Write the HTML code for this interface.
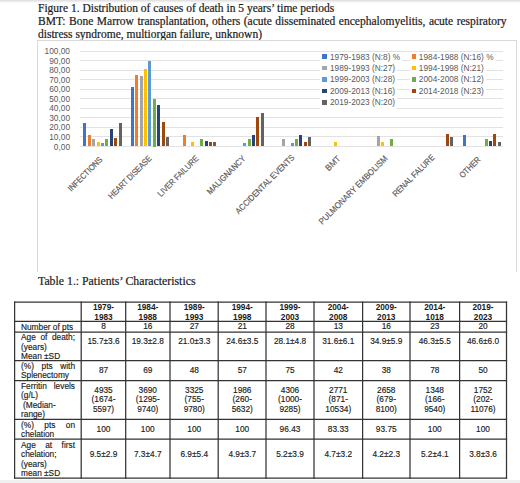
<!DOCTYPE html><html><head><meta charset="utf-8"><style>
*{margin:0;padding:0;box-sizing:border-box}
html,body{width:520px;height:483px;overflow:hidden;background:#fff}
body{position:relative;font-family:"Liberation Sans",sans-serif}
.a{position:absolute}
.s{font-family:"Liberation Serif",serif;font-size:11.5px;color:#1a1a1a;-webkit-text-stroke:0.2px #1a1a1a;white-space:nowrap;line-height:13px}
.yl{font-size:8.3px;color:#595959;text-align:right;width:40px;line-height:10px;white-space:nowrap}
.g{height:1px;background:#e2e2e2}
.b{}
.lg{font-size:8.3px;color:#595959;white-space:nowrap;line-height:10px}
.lm{width:4.8px;height:4.8px}
.xl{font-size:8.6px;color:#555;-webkit-text-stroke:0.15px #555;white-space:nowrap;line-height:10px;transform-origin:100% 50%;text-align:right}
.hl{height:1px;background:#111}
.vl{width:1px;background:#111}
.t{font-size:8.3px;color:#1a1a1a;line-height:9.5px;text-align:center;-webkit-text-stroke:0.15px #1a1a1a}
.tb{font-weight:bold;-webkit-text-stroke:0}
.jl{text-align:justify;text-align-last:justify;white-space:nowrap}
</style></head><body>
<div class="a" style="left:0;top:0;width:520px;height:3px;background:linear-gradient(#dcdcdc,#fff)"></div>
<div class="a" style="left:0;top:480px;width:520px;height:3px;background:#f0f0f0"></div>
<div class="a s" style="left:38px;top:1.6px">Figure 1. Distribution of causes of death in 5 years’ time periods</div>
<div class="a s" style="left:38px;top:14.6px;width:468.5px;text-align:justify;text-align-last:justify">BMT: Bone Marrow transplantation, others (acute disseminated encephalomyelitis, acute respiratory</div>
<div class="a s" style="left:38px;top:27.6px">distress syndrome, multiorgan failure, unknown)</div>
<div class="a" style="left:37px;top:40px;width:480px;height:232px;border:1px solid #d9d9d9;border-bottom:none"></div>
<div class="a g" style="left:80px;top:50.50px;width:423px"></div>
<div class="a yl" style="left:30px;top:46.00px">100,00</div>
<div class="a g" style="left:80px;top:60.05px;width:423px"></div>
<div class="a yl" style="left:30px;top:55.55px">90,00</div>
<div class="a g" style="left:80px;top:69.60px;width:423px"></div>
<div class="a yl" style="left:30px;top:65.10px">80,00</div>
<div class="a g" style="left:80px;top:79.15px;width:423px"></div>
<div class="a yl" style="left:30px;top:74.65px">70,00</div>
<div class="a g" style="left:80px;top:88.70px;width:423px"></div>
<div class="a yl" style="left:30px;top:84.20px">60,00</div>
<div class="a g" style="left:80px;top:98.25px;width:423px"></div>
<div class="a yl" style="left:30px;top:93.75px">50,00</div>
<div class="a g" style="left:80px;top:107.80px;width:423px"></div>
<div class="a yl" style="left:30px;top:103.30px">40,00</div>
<div class="a g" style="left:80px;top:117.35px;width:423px"></div>
<div class="a yl" style="left:30px;top:112.85px">30,00</div>
<div class="a g" style="left:80px;top:126.90px;width:423px"></div>
<div class="a yl" style="left:30px;top:122.40px">20,00</div>
<div class="a g" style="left:80px;top:136.45px;width:423px"></div>
<div class="a yl" style="left:30px;top:131.95px">10,00</div>
<div class="a g" style="left:80px;top:146.00px;width:423px"></div>
<div class="a yl" style="left:30px;top:141.50px">0,00</div>
<div class="a" style="left:83.30px;top:122.62px;width:3.2px;height:23.88px;background:#4472C4"></div>
<div class="a" style="left:87.70px;top:134.56px;width:3.2px;height:11.94px;background:#ED7D31"></div>
<div class="a" style="left:92.10px;top:139.43px;width:3.2px;height:7.07px;background:#A5A5A5"></div>
<div class="a" style="left:96.50px;top:141.95px;width:3.2px;height:4.55px;background:#FFC000"></div>
<div class="a" style="left:100.90px;top:143.09px;width:3.2px;height:3.41px;background:#5B9BD5"></div>
<div class="a" style="left:105.30px;top:138.54px;width:3.2px;height:7.96px;background:#70AD47"></div>
<div class="a" style="left:109.70px;top:128.59px;width:3.2px;height:17.91px;background:#264478"></div>
<div class="a" style="left:114.10px;top:138.20px;width:3.2px;height:8.30px;background:#9E480E"></div>
<div class="a" style="left:118.50px;top:122.62px;width:3.2px;height:23.88px;background:#636363"></div>
<div class="a xl" style="left:-48.68px;top:152.58px;width:150px;transform:rotate(-45deg) scaleX(0.868)">INFECTIONS</div>
<div class="a" style="left:130.70px;top:86.81px;width:3.2px;height:59.69px;background:#4472C4"></div>
<div class="a" style="left:135.10px;top:74.88px;width:3.2px;height:71.62px;background:#ED7D31"></div>
<div class="a" style="left:139.50px;top:75.76px;width:3.2px;height:70.74px;background:#A5A5A5"></div>
<div class="a" style="left:143.90px;top:69.19px;width:3.2px;height:77.31px;background:#FFC000"></div>
<div class="a" style="left:148.30px;top:61.23px;width:3.2px;height:85.27px;background:#5B9BD5"></div>
<div class="a" style="left:152.70px;top:98.75px;width:3.2px;height:47.75px;background:#70AD47"></div>
<div class="a" style="left:157.10px;top:104.72px;width:3.2px;height:41.78px;background:#264478"></div>
<div class="a" style="left:161.50px;top:121.59px;width:3.2px;height:24.91px;background:#9E480E"></div>
<div class="a" style="left:165.90px;top:136.95px;width:3.2px;height:9.55px;background:#636363"></div>
<div class="a xl" style="left:-0.08px;top:152.34px;width:150px;transform:rotate(-45deg) scaleX(0.8342)">HEART DISEASE</div>
<div class="a" style="left:182.50px;top:134.56px;width:3.2px;height:11.94px;background:#ED7D31"></div>
<div class="a" style="left:191.30px;top:141.95px;width:3.2px;height:4.55px;background:#FFC000"></div>
<div class="a" style="left:200.10px;top:138.54px;width:3.2px;height:7.96px;background:#70AD47"></div>
<div class="a" style="left:204.50px;top:140.53px;width:3.2px;height:5.97px;background:#264478"></div>
<div class="a" style="left:208.90px;top:142.35px;width:3.2px;height:4.15px;background:#9E480E"></div>
<div class="a" style="left:213.30px;top:141.72px;width:3.2px;height:4.77px;background:#636363"></div>
<div class="a xl" style="left:46.94px;top:152.34px;width:150px;transform:rotate(-45deg) scaleX(0.8532)">LIVER FAILURE</div>
<div class="a" style="left:243.10px;top:143.09px;width:3.2px;height:3.41px;background:#5B9BD5"></div>
<div class="a" style="left:247.50px;top:138.54px;width:3.2px;height:7.96px;background:#70AD47"></div>
<div class="a" style="left:251.90px;top:134.56px;width:3.2px;height:11.94px;background:#264478"></div>
<div class="a" style="left:256.30px;top:117.43px;width:3.2px;height:29.07px;background:#9E480E"></div>
<div class="a" style="left:260.70px;top:113.08px;width:3.2px;height:33.42px;background:#636363"></div>
<div class="a xl" style="left:94.26px;top:152.34px;width:150px;transform:rotate(-45deg) scaleX(0.891)">MALIGNANCY</div>
<div class="a" style="left:281.70px;top:139.43px;width:3.2px;height:7.07px;background:#A5A5A5"></div>
<div class="a" style="left:290.50px;top:143.09px;width:3.2px;height:3.41px;background:#5B9BD5"></div>
<div class="a" style="left:294.90px;top:138.54px;width:3.2px;height:7.96px;background:#70AD47"></div>
<div class="a" style="left:299.30px;top:134.56px;width:3.2px;height:11.94px;background:#264478"></div>
<div class="a" style="left:303.70px;top:142.35px;width:3.2px;height:4.15px;background:#9E480E"></div>
<div class="a" style="left:308.10px;top:136.95px;width:3.2px;height:9.55px;background:#636363"></div>
<div class="a xl" style="left:142.54px;top:150.70px;width:150px;transform:rotate(-45deg) scaleX(0.8844)">ACCIDENTAL EVENTS</div>
<div class="a" style="left:333.50px;top:141.95px;width:3.2px;height:4.55px;background:#FFC000"></div>
<div class="a xl" style="left:189.40px;top:151.96px;width:150px;transform:rotate(-45deg) scaleX(0.9568)">BMT</div>
<div class="a" style="left:376.50px;top:135.89px;width:3.2px;height:10.61px;background:#A5A5A5"></div>
<div class="a" style="left:380.90px;top:141.95px;width:3.2px;height:4.55px;background:#FFC000"></div>
<div class="a" style="left:389.70px;top:138.54px;width:3.2px;height:7.96px;background:#70AD47"></div>
<div class="a xl" style="left:236.16px;top:151.84px;width:150px;transform:rotate(-45deg) scaleX(0.9135)">PULMONARY EMBOLISM</div>
<div class="a" style="left:445.90px;top:134.04px;width:3.2px;height:12.46px;background:#9E480E"></div>
<div class="a" style="left:450.30px;top:136.95px;width:3.2px;height:9.55px;background:#636363"></div>
<div class="a xl" style="left:283.10px;top:151.42px;width:150px;transform:rotate(-45deg) scaleX(0.861)">RENAL FALURE</div>
<div class="a" style="left:462.50px;top:134.56px;width:3.2px;height:11.94px;background:#4472C4"></div>
<div class="a" style="left:484.50px;top:138.54px;width:3.2px;height:7.96px;background:#70AD47"></div>
<div class="a" style="left:488.90px;top:140.53px;width:3.2px;height:5.97px;background:#264478"></div>
<div class="a" style="left:493.30px;top:134.04px;width:3.2px;height:12.46px;background:#9E480E"></div>
<div class="a" style="left:497.70px;top:141.72px;width:3.2px;height:4.77px;background:#636363"></div>
<div class="a xl" style="left:329.26px;top:153.04px;width:150px;transform:rotate(-45deg) scaleX(0.8618)">OTHER</div>
<div class="a lg" style="left:320.0px;top:51.60px;height:11.4px;padding-left:10px;padding-right:2px;background:#fff;line-height:11.4px">1979-1983 (N:8) %</div>
<div class="a lm" style="left:322.0px;top:54.30px;background:#4472C4"></div>
<div class="a lg" style="left:409.5px;top:51.60px;height:11.4px;padding-left:9.3px;padding-right:2px;background:#fff;line-height:11.4px">1984-1988 (N:16) %</div>
<div class="a lm" style="left:411.5px;top:54.30px;background:#ED7D31"></div>
<div class="a lg" style="left:320.0px;top:63.00px;height:11.4px;padding-left:10px;padding-right:2px;background:#fff;line-height:11.4px">1989-1993 (N:27)</div>
<div class="a lm" style="left:322.0px;top:65.70px;background:#A5A5A5"></div>
<div class="a lg" style="left:409.5px;top:63.00px;height:11.4px;padding-left:9.3px;padding-right:2px;background:#fff;line-height:11.4px">1994-1998 (N:21)</div>
<div class="a lm" style="left:411.5px;top:65.70px;background:#FFC000"></div>
<div class="a lg" style="left:320.0px;top:74.40px;height:11.4px;padding-left:10px;padding-right:2px;background:#fff;line-height:11.4px">1999-2003 (N:28)</div>
<div class="a lm" style="left:322.0px;top:77.10px;background:#5B9BD5"></div>
<div class="a lg" style="left:409.5px;top:74.40px;height:11.4px;padding-left:9.3px;padding-right:2px;background:#fff;line-height:11.4px">2004-2008 (N:12)</div>
<div class="a lm" style="left:411.5px;top:77.10px;background:#70AD47"></div>
<div class="a lg" style="left:320.0px;top:85.80px;height:11.4px;padding-left:10px;padding-right:2px;background:#fff;line-height:11.4px">2009-2013 (N:16)</div>
<div class="a lm" style="left:322.0px;top:88.50px;background:#264478"></div>
<div class="a lg" style="left:409.5px;top:85.80px;height:11.4px;padding-left:9.3px;padding-right:2px;background:#fff;line-height:11.4px">2014-2018 (N:23)</div>
<div class="a lm" style="left:411.5px;top:88.50px;background:#9E480E"></div>
<div class="a lg" style="left:320.0px;top:97.20px;height:11.4px;padding-left:10px;padding-right:2px;background:#fff;line-height:11.4px">2019-2023 (N:20)</div>
<div class="a lm" style="left:322.0px;top:99.90px;background:#636363"></div>
<div class="a s" style="left:38px;top:275px;font-size:11.8px">Table 1.: Patients’ Characteristics</div>
<svg class="a" style="left:0;top:0" width="520" height="483" viewBox="0 0 520 483"><g stroke="#333" stroke-width="1.25" fill="none"><line x1="13.975" x2="507.125" y1="302.2" y2="302.2"/><line x1="13.975" x2="507.125" y1="321.3" y2="321.3"/><line x1="13.975" x2="507.125" y1="332" y2="332"/><line x1="13.975" x2="507.125" y1="360.5" y2="360.5"/><line x1="13.975" x2="507.125" y1="380.5" y2="380.5"/><line x1="13.975" x2="507.125" y1="419.4" y2="419.4"/><line x1="13.975" x2="507.125" y1="439.2" y2="439.2"/><line x1="13.975" x2="507.125" y1="478.2" y2="478.2"/><line x1="14.6" x2="14.6" y1="301.575" y2="478.825"/><line x1="81.2" x2="81.2" y1="301.575" y2="478.825"/><line x1="125.7" x2="125.7" y1="301.575" y2="478.825"/><line x1="170" x2="170" y1="301.575" y2="478.825"/><line x1="218.2" x2="218.2" y1="301.575" y2="478.825"/><line x1="266" x2="266" y1="301.575" y2="478.825"/><line x1="314" x2="314" y1="301.575" y2="478.825"/><line x1="362.6" x2="362.6" y1="301.575" y2="478.825"/><line x1="410" x2="410" y1="301.575" y2="478.825"/><line x1="459.6" x2="459.6" y1="301.575" y2="478.825"/><line x1="506.5" x2="506.5" y1="301.575" y2="478.825"/></g></svg>
<div class="a t tb" style="left:82px;width:43px;top:303.6px;height:18.0px;display:flex;flex-direction:column;justify-content:center"><div>1979-<br>1983</div></div>
<div class="a t tb" style="left:126px;width:43.5px;top:303.6px;height:18.0px;display:flex;flex-direction:column;justify-content:center"><div>1984-<br>1988</div></div>
<div class="a t tb" style="left:170.5px;width:47.5px;top:303.6px;height:18.0px;display:flex;flex-direction:column;justify-content:center"><div>1989-<br>1993</div></div>
<div class="a t tb" style="left:219px;width:46.5px;top:303.6px;height:18.0px;display:flex;flex-direction:column;justify-content:center"><div>1994-<br>1998</div></div>
<div class="a t tb" style="left:266.5px;width:47.0px;top:303.6px;height:18.0px;display:flex;flex-direction:column;justify-content:center"><div>1999-<br>2003</div></div>
<div class="a t tb" style="left:314.5px;width:47.5px;top:303.6px;height:18.0px;display:flex;flex-direction:column;justify-content:center"><div>2004-<br>2008</div></div>
<div class="a t tb" style="left:363px;width:46.5px;top:303.6px;height:18.0px;display:flex;flex-direction:column;justify-content:center"><div>2009-<br>2013</div></div>
<div class="a t tb" style="left:410.5px;width:48.5px;top:303.6px;height:18.0px;display:flex;flex-direction:column;justify-content:center"><div>2014-<br>1018</div></div>
<div class="a t tb" style="left:460px;width:46px;top:303.6px;height:18.0px;display:flex;flex-direction:column;justify-content:center"><div>2019-<br>2023</div></div>
<div class="a t" style="left:82px;width:43px;top:322px;height:10px;display:flex;flex-direction:column;justify-content:center"><div>8</div></div>
<div class="a t" style="left:126px;width:43.5px;top:322px;height:10px;display:flex;flex-direction:column;justify-content:center"><div>16</div></div>
<div class="a t" style="left:170.5px;width:47.5px;top:322px;height:10px;display:flex;flex-direction:column;justify-content:center"><div>27</div></div>
<div class="a t" style="left:219px;width:46.5px;top:322px;height:10px;display:flex;flex-direction:column;justify-content:center"><div>21</div></div>
<div class="a t" style="left:266.5px;width:47.0px;top:322px;height:10px;display:flex;flex-direction:column;justify-content:center"><div>28</div></div>
<div class="a t" style="left:314.5px;width:47.5px;top:322px;height:10px;display:flex;flex-direction:column;justify-content:center"><div>13</div></div>
<div class="a t" style="left:363px;width:46.5px;top:322px;height:10px;display:flex;flex-direction:column;justify-content:center"><div>16</div></div>
<div class="a t" style="left:410.5px;width:48.5px;top:322px;height:10px;display:flex;flex-direction:column;justify-content:center"><div>23</div></div>
<div class="a t" style="left:460px;width:46px;top:322px;height:10px;display:flex;flex-direction:column;justify-content:center"><div>20</div></div>
<div class="a t" style="left:82px;width:43px;top:333px;height:27px;display:flex;flex-direction:column;justify-content:center"><div>15.7±3.6<br>&nbsp;</div></div>
<div class="a t" style="left:126px;width:43.5px;top:333px;height:27px;display:flex;flex-direction:column;justify-content:center"><div>19.3±2.8<br>&nbsp;</div></div>
<div class="a t" style="left:170.5px;width:47.5px;top:333px;height:27px;display:flex;flex-direction:column;justify-content:center"><div>21.0±3.3<br>&nbsp;</div></div>
<div class="a t" style="left:219px;width:46.5px;top:333px;height:27px;display:flex;flex-direction:column;justify-content:center"><div>24.6±3.5<br>&nbsp;</div></div>
<div class="a t" style="left:266.5px;width:47.0px;top:333px;height:27px;display:flex;flex-direction:column;justify-content:center"><div>28.1±4.8<br>&nbsp;</div></div>
<div class="a t" style="left:314.5px;width:47.5px;top:333px;height:27px;display:flex;flex-direction:column;justify-content:center"><div>31.6±6.1<br>&nbsp;</div></div>
<div class="a t" style="left:363px;width:46.5px;top:333px;height:27px;display:flex;flex-direction:column;justify-content:center"><div>34.9±5.9<br>&nbsp;</div></div>
<div class="a t" style="left:410.5px;width:48.5px;top:333px;height:27px;display:flex;flex-direction:column;justify-content:center"><div>46.3±5.5<br>&nbsp;</div></div>
<div class="a t" style="left:460px;width:46px;top:333px;height:27px;display:flex;flex-direction:column;justify-content:center"><div>46.6±6.0<br>&nbsp;</div></div>
<div class="a t" style="left:82px;width:43px;top:361px;height:19px;display:flex;flex-direction:column;justify-content:center"><div>87</div></div>
<div class="a t" style="left:126px;width:43.5px;top:361px;height:19px;display:flex;flex-direction:column;justify-content:center"><div>69</div></div>
<div class="a t" style="left:170.5px;width:47.5px;top:361px;height:19px;display:flex;flex-direction:column;justify-content:center"><div>48</div></div>
<div class="a t" style="left:219px;width:46.5px;top:361px;height:19px;display:flex;flex-direction:column;justify-content:center"><div>57</div></div>
<div class="a t" style="left:266.5px;width:47.0px;top:361px;height:19px;display:flex;flex-direction:column;justify-content:center"><div>75</div></div>
<div class="a t" style="left:314.5px;width:47.5px;top:361px;height:19px;display:flex;flex-direction:column;justify-content:center"><div>42</div></div>
<div class="a t" style="left:363px;width:46.5px;top:361px;height:19px;display:flex;flex-direction:column;justify-content:center"><div>38</div></div>
<div class="a t" style="left:410.5px;width:48.5px;top:361px;height:19px;display:flex;flex-direction:column;justify-content:center"><div>78</div></div>
<div class="a t" style="left:460px;width:46px;top:361px;height:19px;display:flex;flex-direction:column;justify-content:center"><div>50</div></div>
<div class="a t" style="left:82px;width:43px;top:381px;height:38px;display:flex;flex-direction:column;justify-content:center"><div>4935<br>(1674-<br>5597)</div></div>
<div class="a t" style="left:126px;width:43.5px;top:381px;height:38px;display:flex;flex-direction:column;justify-content:center"><div>3690<br>(1295-<br>9740)</div></div>
<div class="a t" style="left:170.5px;width:47.5px;top:381px;height:38px;display:flex;flex-direction:column;justify-content:center"><div>3325<br>(755-<br>9780)</div></div>
<div class="a t" style="left:219px;width:46.5px;top:381px;height:38px;display:flex;flex-direction:column;justify-content:center"><div>1986<br>(260-<br>5632)</div></div>
<div class="a t" style="left:266.5px;width:47.0px;top:381px;height:38px;display:flex;flex-direction:column;justify-content:center"><div>4306<br>(1000-<br>9285)</div></div>
<div class="a t" style="left:314.5px;width:47.5px;top:381px;height:38px;display:flex;flex-direction:column;justify-content:center"><div>2771<br>(871-<br>10534)</div></div>
<div class="a t" style="left:363px;width:46.5px;top:381px;height:38px;display:flex;flex-direction:column;justify-content:center"><div>2658<br>(679-<br>8100)</div></div>
<div class="a t" style="left:410.5px;width:48.5px;top:381px;height:38px;display:flex;flex-direction:column;justify-content:center"><div>1348<br>(166-<br>9540)</div></div>
<div class="a t" style="left:460px;width:46px;top:381px;height:38px;display:flex;flex-direction:column;justify-content:center"><div>1752<br>(202-<br>11076)</div></div>
<div class="a t" style="left:82px;width:43px;top:420px;height:19px;display:flex;flex-direction:column;justify-content:center"><div>100</div></div>
<div class="a t" style="left:126px;width:43.5px;top:420px;height:19px;display:flex;flex-direction:column;justify-content:center"><div>100</div></div>
<div class="a t" style="left:170.5px;width:47.5px;top:420px;height:19px;display:flex;flex-direction:column;justify-content:center"><div>100</div></div>
<div class="a t" style="left:219px;width:46.5px;top:420px;height:19px;display:flex;flex-direction:column;justify-content:center"><div>100</div></div>
<div class="a t" style="left:266.5px;width:47.0px;top:420px;height:19px;display:flex;flex-direction:column;justify-content:center"><div>96.43</div></div>
<div class="a t" style="left:314.5px;width:47.5px;top:420px;height:19px;display:flex;flex-direction:column;justify-content:center"><div>83.33</div></div>
<div class="a t" style="left:363px;width:46.5px;top:420px;height:19px;display:flex;flex-direction:column;justify-content:center"><div>93.75</div></div>
<div class="a t" style="left:410.5px;width:48.5px;top:420px;height:19px;display:flex;flex-direction:column;justify-content:center"><div>100</div></div>
<div class="a t" style="left:460px;width:46px;top:420px;height:19px;display:flex;flex-direction:column;justify-content:center"><div>100</div></div>
<div class="a t" style="left:82px;width:43px;top:440px;height:38px;display:flex;flex-direction:column;justify-content:center"><div>9.5±2.9<br>&nbsp;</div></div>
<div class="a t" style="left:126px;width:43.5px;top:440px;height:38px;display:flex;flex-direction:column;justify-content:center"><div>7.3±4.7<br>&nbsp;</div></div>
<div class="a t" style="left:170.5px;width:47.5px;top:440px;height:38px;display:flex;flex-direction:column;justify-content:center"><div>6.9±5.4<br>&nbsp;</div></div>
<div class="a t" style="left:219px;width:46.5px;top:440px;height:38px;display:flex;flex-direction:column;justify-content:center"><div>4.9±3.7<br>&nbsp;</div></div>
<div class="a t" style="left:266.5px;width:47.0px;top:440px;height:38px;display:flex;flex-direction:column;justify-content:center"><div>5.2±3.9<br>&nbsp;</div></div>
<div class="a t" style="left:314.5px;width:47.5px;top:440px;height:38px;display:flex;flex-direction:column;justify-content:center"><div>4.7±3.2<br>&nbsp;</div></div>
<div class="a t" style="left:363px;width:46.5px;top:440px;height:38px;display:flex;flex-direction:column;justify-content:center"><div>4.2±2.3<br>&nbsp;</div></div>
<div class="a t" style="left:410.5px;width:48.5px;top:440px;height:38px;display:flex;flex-direction:column;justify-content:center"><div>5.2±4.1<br>&nbsp;</div></div>
<div class="a t" style="left:460px;width:46px;top:440px;height:38px;display:flex;flex-direction:column;justify-content:center"><div>3.8±3.6<br>&nbsp;</div></div>
<div class="a t" style="left:21px;width:54px;top:322.8px;height:10px;display:flex;flex-direction:column;justify-content:center"><div><div style="text-align:left">Number of pts</div></div></div>
<div class="a t" style="left:21px;width:54px;top:333.8px;height:27px;display:flex;flex-direction:column;justify-content:center"><div><div class="jl">Age of death;</div><div style="text-align:left">(years)</div><div style="text-align:left">Mean ±SD</div></div></div>
<div class="a t" style="left:21px;width:54px;top:361.8px;height:19px;display:flex;flex-direction:column;justify-content:center"><div><div class="jl">(%) pts with</div><div style="text-align:left">Splenectomy</div></div></div>
<div class="a t" style="left:21px;width:54px;top:381.8px;height:38px;display:flex;flex-direction:column;justify-content:center"><div><div class="jl">Ferritin levels</div><div style="text-align:left">(g/L)</div><div style="text-align:left"><span style="padding-left:2px">(Median-</span></div><div style="text-align:left">range)</div></div></div>
<div class="a t" style="left:21px;width:54px;top:420.8px;height:19px;display:flex;flex-direction:column;justify-content:center"><div><div class="jl">(%) pts on</div><div style="text-align:left">chelation</div></div></div>
<div class="a t" style="left:21px;width:54px;top:440.8px;height:38px;display:flex;flex-direction:column;justify-content:center"><div><div class="jl">Age at first</div><div style="text-align:left">chelation;</div><div style="text-align:left">(years)</div><div style="text-align:left">mean ±SD</div></div></div>
</body></html>
